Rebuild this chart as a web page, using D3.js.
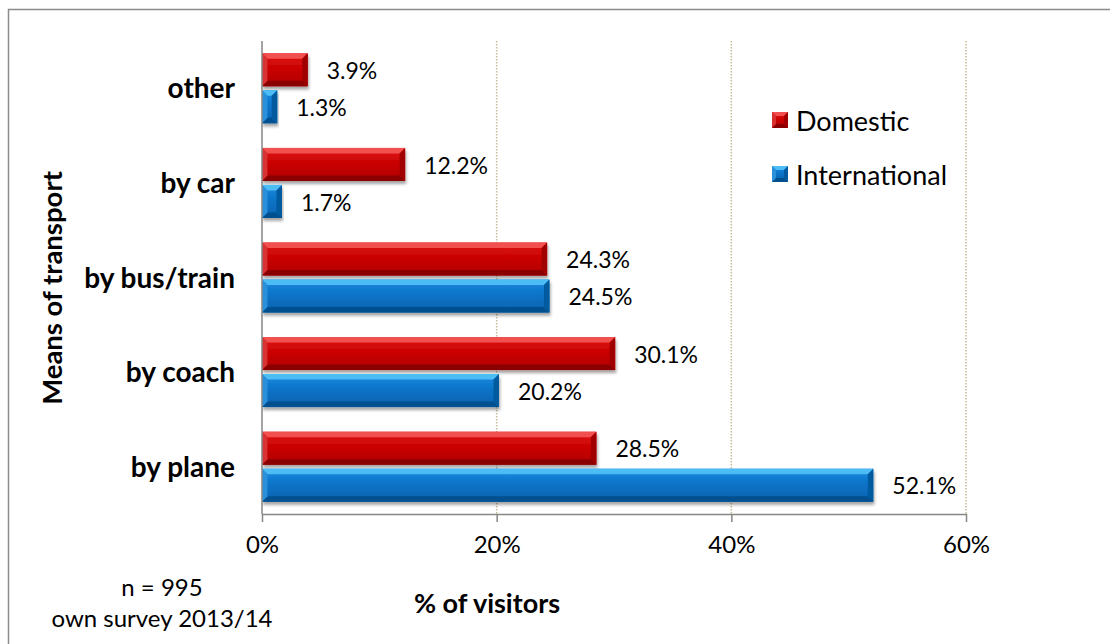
<!DOCTYPE html>
<html>
<head>
<meta charset="utf-8">
<script src="https://cdn.jsdelivr.net/npm/d3@7"></script>
<style>
  html, body { margin: 0; padding: 0; background: #fff; }
  svg { display: block; font-family: Lato, "Liberation Sans", sans-serif; }
</style>
</head>
<body>
<svg id="chart" width="1110" height="644"></svg>
<script>
// Means of transport used by visitors, share in percent
const categories = ["other", "by car", "by bus/train", "by coach", "by plane"];
const domestic = [3.9, 12.2, 24.3, 30.1, 28.5];
const international = [1.3, 1.7, 24.5, 20.2, 52.1];
const seriesNames = ["Domestic", "International"];
const xTicks = [0, 20, 40, 60];

const palette = {
  Domestic:      { body: ["#e01818", "#c80000", "#b00000"], top: "#f25050", bottom: "#8a0000", left: "#d83030", right: "#a00000" },
  International: { body: ["#1a8ae0", "#0a72c6", "#0562ae"], top: "#4cbcf4", bottom: "#034f8e", left: "#2a90dc", right: "#045a9e" }
};

const svg = d3.select("#chart");
const defs = svg.append("defs");

// soft drop shadow under the bars
const shadow = defs.append("filter").attr("id", "barShadow")
  .attr("x", "-5%").attr("y", "-20%").attr("width", "115%").attr("height", "160%");
shadow.append("feDropShadow").attr("dx", 1).attr("dy", 3).attr("stdDeviation", 1.6)
  .attr("flood-color", "#000").attr("flood-opacity", 0.35);

seriesNames.forEach(name => {
  const g = defs.append("linearGradient").attr("id", "grad-" + name)
    .attr("x1", 0).attr("y1", 0).attr("x2", 0).attr("y2", 1);
  palette[name].body.forEach((c, i, arr) => {
    g.append("stop").attr("offset", i / (arr.length - 1)).attr("stop-color", c);
  });
});

// outer chart frame
svg.append("rect").attr("x", 8.5).attr("y", 9.5).attr("width", 1200).attr("height", 700)
  .attr("fill", "none").attr("stroke", "#8c8c8c").attr("stroke-width", 1.5);

const x = d3.scaleLinear().domain([0, 60]).range([262, 966]);
const y = d3.scaleBand().domain(categories).range([41, 514]).paddingInner(0.26).paddingOuter(0.13);
const ySub = d3.scaleBand().domain(seriesNames).range([0, y.bandwidth()]).paddingInner(0.108);

// vertical dotted gridlines
svg.append("g").selectAll("line").data(xTicks.filter(t => t > 0)).join("line")
  .attr("x1", d => x(d)).attr("x2", d => x(d))
  .attr("y1", 41).attr("y2", 514)
  .attr("stroke", "#c4bd97").attr("stroke-width", 1.5).attr("stroke-dasharray", "1.5,1.5");

// bevelled bar drawing
function bevelBar(sel, x0, y0, w, h, name, b) {
  const p = palette[name];
  const bb = Math.min(b, w / 2, h / 2);
  sel.append("rect").attr("x", x0).attr("y", y0).attr("width", w).attr("height", h)
    .attr("fill", `url(#grad-${name})`);
  const poly = (pts, fill) => sel.append("polygon")
    .attr("points", pts.map(p => p.join(",")).join(" ")).attr("fill", fill);
  poly([[x0, y0], [x0 + w, y0], [x0 + w - bb, y0 + bb], [x0 + bb, y0 + bb]], p.top);
  poly([[x0, y0 + h], [x0 + w, y0 + h], [x0 + w - bb, y0 + h - bb], [x0 + bb, y0 + h - bb]], p.bottom);
  poly([[x0, y0], [x0 + bb, y0 + bb], [x0 + bb, y0 + h - bb], [x0, y0 + h]], p.left);
  poly([[x0 + w, y0], [x0 + w - bb, y0 + bb], [x0 + w - bb, y0 + h - bb], [x0 + w, y0 + h]], p.right);
}

const rows = categories.map((c, i) => ({ cat: c, Domestic: domestic[i], International: international[i] }));
const barsG = svg.append("g");
rows.forEach(r => {
  seriesNames.forEach(name => {
    const g = barsG.append("g").attr("filter", "url(#barShadow)");
    const y0 = y(r.cat) + ySub(name);
    bevelBar(g, x(0), y0, x(r[name]) - x(0), ySub.bandwidth(), name, 5.5);
  });
});

// value labels
rows.forEach(r => {
  seriesNames.forEach(name => {
    svg.append("text")
      .attr("x", x(r[name]) + 19)
      .attr("y", y(r.cat) + ySub(name) + ySub.bandwidth() / 2 + 1)
      .attr("dy", "0.36em")
      .attr("font-size", 23).attr("fill", "#000")
      .text(r[name].toFixed(1) + "%");
  });
});

// x axis
const xAxis = svg.append("g").attr("transform", "translate(0,514)")
  .call(d3.axisBottom(x).tickValues(xTicks).tickSize(8).tickSizeOuter(0).tickPadding(14)
    .tickFormat(d => d + "%"));
xAxis.select(".domain").attr("stroke", "#868686").attr("stroke-width", 1.5);
xAxis.selectAll(".tick line").attr("stroke", "#868686").attr("stroke-width", 1.5);
xAxis.selectAll(".tick text").attr("font-size", 24).attr("font-family", "Lato, sans-serif").attr("fill", "#000");

// y axis line
svg.append("line").attr("x1", x(0)).attr("x2", x(0)).attr("y1", 41).attr("y2", 514)
  .attr("stroke", "#868686").attr("stroke-width", 1.5);

// category labels
svg.append("g").selectAll("text").data(categories).join("text")
  .attr("x", 235).attr("y", d => y(d) + y.bandwidth() / 2).attr("dy", "0.36em")
  .attr("text-anchor", "end").attr("font-size", 28).attr("font-weight", "bold")
  .text(d => d);

// axis titles
svg.append("text").attr("transform", "translate(52,288) rotate(-90)")
  .attr("text-anchor", "middle").attr("dy", "0.36em")
  .attr("font-size", 27.5).attr("font-weight", "bold").text("Means of transport");
svg.append("text").attr("x", 487).attr("y", 603).attr("dy", "0.36em")
  .attr("text-anchor", "middle").attr("font-size", 27).attr("font-weight", "bold").text("% of visitors");

// sample note
svg.append("text").attr("x", 162).attr("y", 587).attr("dy", "0.36em")
  .attr("text-anchor", "middle").attr("font-size", 24).text("n = 995");
svg.append("text").attr("x", 162).attr("y", 618).attr("dy", "0.36em")
  .attr("text-anchor", "middle").attr("font-size", 24).text("own survey 2013/14");

// legend
const legend = svg.append("g").attr("transform", "translate(772,112)");
seriesNames.forEach((name, i) => {
  const g = legend.append("g").attr("transform", `translate(0,${i * 54})`);
  bevelBar(g, 0, 0, 16, 16, name, 4);
  g.append("text").attr("x", 24).attr("y", 9).attr("dy", "0.36em")
    .attr("font-size", 27).text(name);
});
</script>
</body>
</html>
